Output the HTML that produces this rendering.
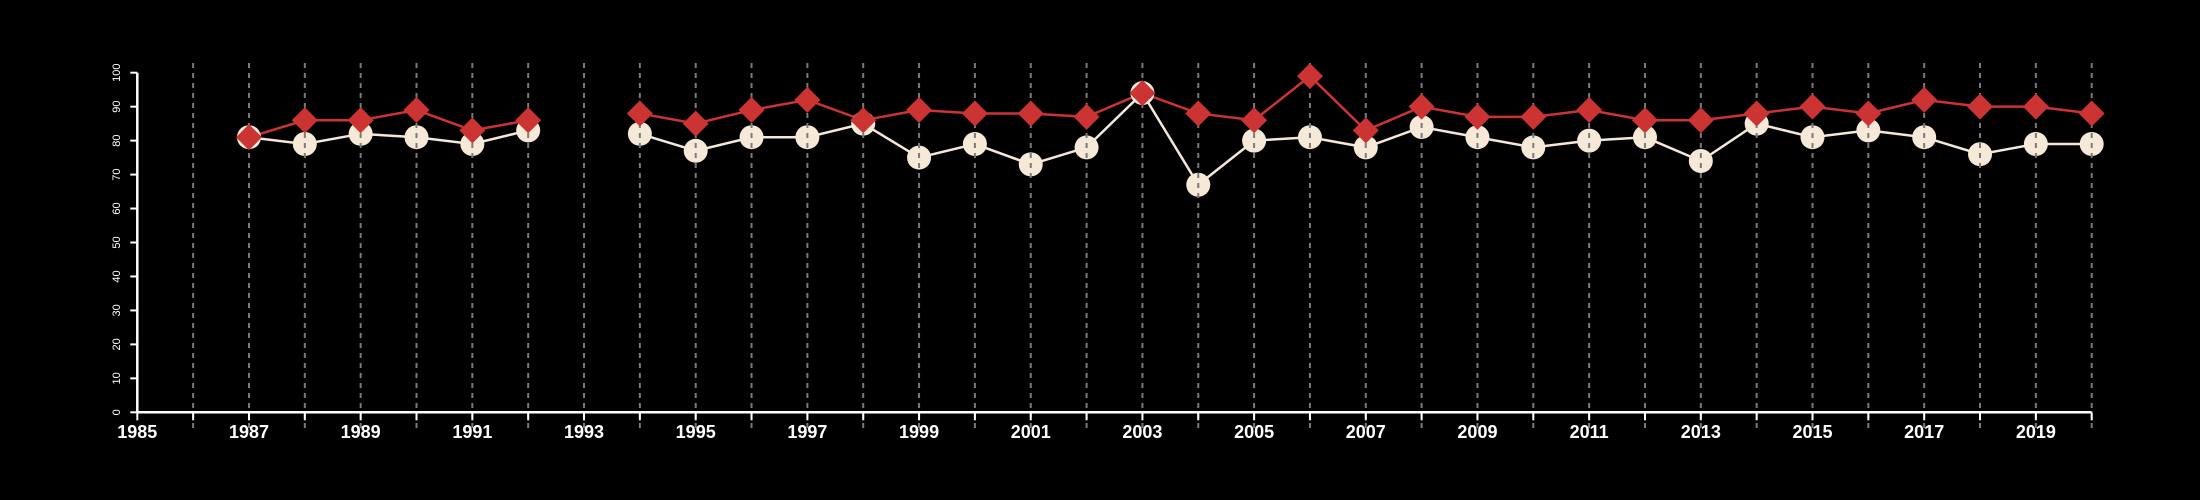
<!DOCTYPE html>
<html><head><meta charset="utf-8"><style>
html,body{margin:0;padding:0;background:#000;}
svg{display:block;font-family:"Liberation Sans",sans-serif;}
</style></head><body>
<svg id="chart" width="2200" height="500" viewBox="0 0 2200 500">
<rect width="2200" height="500" fill="#000"/>
<g id="g-lines"></g><g id="g-circ"></g><g id="g-grid"></g><g id="g-dia"></g><g id="g-axes"></g>
</svg>
<script>
const years = [1987,1988,1989,1990,1991,1992,1994,1995,1996,1997,1998,1999,2000,2001,2002,2003,2004,2005,2006,2007,2008,2009,2010,2011,2012,2013,2014,2015,2016,2017,2018,2019,2020];
const redValues = [81,86,86,89,83,86,88,85,89,92,86,89,88,88,87,94,88,86,99,83,90,87,87,89,86,86,88,90,88,92,90,90,88];
const whiteValues = [81,79,82,81,79,83,82,77,81,81,85,75,79,73,78,94,67,80,81,78,84,81,78,80,81,74,85,81,83,81,76,79,79];
const yTicks = [0,10,20,30,40,50,60,70,80,90,100];
const xTickLabels = [1985,1987,1989,1991,1993,1995,1997,1999,2001,2003,2005,2007,2009,2011,2013,2015,2017,2019];
const xMin = 1985, xMax = 2020, yMin = 0, yMax = 100;

const X0 = 137.3, X1 = 2091.7, Y0 = 412.3, Y1 = 72.7;
const xs = v => X0 + (v - xMin) / (xMax - xMin) * (X1 - X0);
const ys = v => Y0 - (v - yMin) / (yMax - yMin) * (Y0 - Y1);
const NS = "http://www.w3.org/2000/svg";
function mk(parent, tag, attrs){const e=document.createElementNS(NS,tag);for(const k in attrs)e.setAttribute(k,attrs[k]);document.getElementById(parent).appendChild(e);return e;}

function segments(vals){
  const segs=[];let cur=[];
  years.forEach((y,i)=>{ if(i>0 && y-years[i-1]>1){segs.push(cur);cur=[];} cur.push([xs(y),ys(vals[i])]); });
  segs.push(cur);return segs;
}
segments(whiteValues).forEach(s=>{
  const p=mk('g-lines','polyline',{points:s.map(p=>p.join(',')).join(' '),fill:'none',stroke:'#f5e8d8','stroke-width':2.5});
  
  
});
segments(redValues).forEach(s=>{
  const p=mk('g-lines','polyline',{points:s.map(p=>p.join(',')).join(' '),fill:'none',stroke:'#cc3333','stroke-width':2.5});
  
  
});
years.forEach((y,i)=>{
  const c=mk('g-circ','circle',{cx:xs(y),cy:ys(whiteValues[i]),r:12,fill:'#f7e9d7'});
  
  
});
for(let y=xMin+1;y<=xMax;y++){
  const l=mk('g-grid','line',{x1:xs(y),x2:xs(y),y1:63,y2:428,stroke:'#7a7a7a','stroke-width':2,'stroke-dasharray':'5,5'});
  
  
}
years.forEach((y,i)=>{
  const cx=xs(y),cy=ys(redValues[i]),d=13;
  const p=mk('g-dia','polygon',{points:`${cx},${cy-d} ${cx+d},${cy} ${cx},${cy+d} ${cx-d},${cy}`,fill:'#cc3333'});
  
  
});
const xa=mk('g-axes','line',{x1:X0,x2:X1,y1:Y0,y2:Y0,stroke:'#fff','stroke-width':2.5});


for(let y=xMin;y<=xMax;y++){
  const t=mk('g-axes','line',{x1:xs(y),x2:xs(y),y1:Y0,y2:Y0+8,stroke:'#fff','stroke-width':2});
  
  
}
xTickLabels.forEach(v=>{
  const t=mk('g-axes','text',{x:xs(v),y:432,'text-anchor':'middle','dominant-baseline':'central',fill:'#fff','font-size':18,'font-weight':'bold'});
  t.textContent=v;
  
  
});
const ya=mk('g-axes','line',{x1:X0,x2:X0,y1:Y0,y2:Y1,stroke:'#fff','stroke-width':2.5});


yTicks.forEach(v=>{
  const t=mk('g-axes','line',{x1:X0-7,x2:X0,y1:ys(v),y2:ys(v),stroke:'#fff','stroke-width':2});
  
  
  const lb=mk('g-axes','text',{x:0,y:0,transform:`translate(120,${ys(v)}) rotate(-90)`,'text-anchor':'middle',fill:'#fff','font-size':11});
  lb.textContent=v;
  
  
});
</script>
</body></html>
